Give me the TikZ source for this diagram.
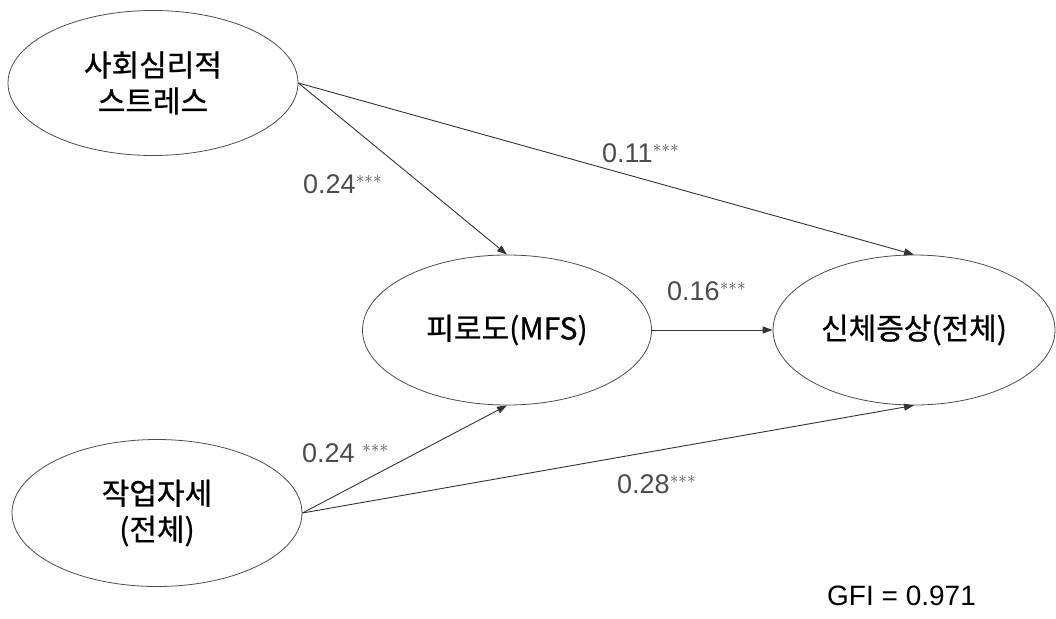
\documentclass[tikz,border=0pt]{standalone}
\usepackage{fontspec}
\usetikzlibrary{shapes.geometric,arrows.meta}
\newfontfamily\kofont[FakeBold=0.8]{Noto Sans CJK KR}
\newfontfamily\numfont{Liberation Sans}
\begin{document}
\begin{tikzpicture}[x=1pt,y=-1pt,
  latent/.style={ellipse,draw=black!70,line width=0.8pt,inner sep=0pt,align=center,
    font=\kofont\fontsize{30}{36}\selectfont},
  path/.style={draw=black!80,line width=0.9pt,-{Triangle[length=10pt,width=7pt]}},
  coef/.style={inner sep=0pt,anchor=base west,text=black!70,font=\numfont\fontsize{27}{30}\selectfont}]
\useasboundingbox (0,0) rectangle (1056,618);
\node[latent,minimum width=290pt,minimum height=145pt] (a) at (153,83) {사회심리적\\스트레스};
\node[latent,minimum width=290pt,minimum height=147pt] (d) at (157,513) {작업자세\\(전체)};
\node[latent,minimum width=289pt,minimum height=150pt] (b) at (507,330) {피로도(MFS)};
\node[latent,minimum width=282pt,minimum height=150pt] (c) at (914,330) {신체증상(전체)};
\draw[path] (a.east) -- (b.north);
\draw[path] (a.east) -- (c.north);
\draw[path] (b.east) -- (c.west);
\draw[path] (d.east) -- (b.south);
\draw[path] (d.east) -- (c.south);
\node[coef] (l1) at (303,193) {0.24$^{\scriptstyle ***}$};
\node[coef] (l2) at (602,162) {0.11$^{\scriptstyle ***}$};
\node[coef] (l3) at (667,300) {0.16$^{\scriptstyle ***}$};
\node[coef] (l4) at (302,462) {0.24 $^{\scriptstyle ***}$};
\node[coef] (l5) at (617,493) {0.28$^{\scriptstyle ***}$};
\node[inner sep=0pt,anchor=base west,font=\numfont\fontsize{28}{30}\selectfont] (gfi) at (827,605) {GFI = 0.971};
\end{tikzpicture}
\end{document}
